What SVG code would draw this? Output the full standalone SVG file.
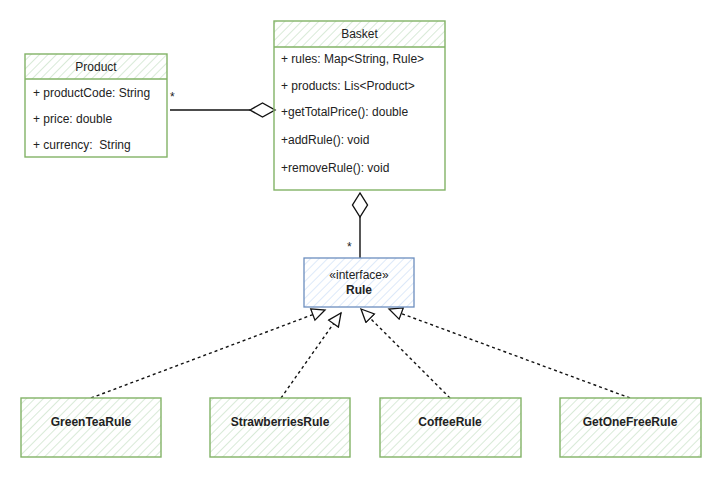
<svg xmlns="http://www.w3.org/2000/svg" width="721" height="478" viewBox="0 0 721 478">
<style>
.t{font-family:"Liberation Sans",Arial,sans-serif;font-size:12px;fill:#222;white-space:pre}
.c{text-anchor:middle}
.b{font-family:"Liberation Sans",Arial,sans-serif;font-size:12px;font-weight:bold;fill:#222;text-anchor:middle}
.g{stroke:#82b366;stroke-width:1.4}
.bl{stroke:#6c8ebf;stroke-width:1.3}
.dash{fill:none;stroke:#111;stroke-width:1.4;stroke-dasharray:3 3}
.ln{fill:none;stroke:#111;stroke-width:1.4}
</style>
<defs>
<pattern id="hg" patternUnits="userSpaceOnUse" width="6" height="6" patternTransform="rotate(45)">
<rect width="6" height="6" fill="#fff"/>
<line x1="0" y1="0" x2="0" y2="6" stroke="#d0e5cf" stroke-width="1.6"/>
</pattern>
<pattern id="hb" patternUnits="userSpaceOnUse" width="6" height="6" patternTransform="rotate(45)">
<rect width="6" height="6" fill="#fff"/>
<line x1="0" y1="0" x2="0" y2="6" stroke="#d5e4f8" stroke-width="1.6"/>
</pattern>
<marker id="tri" markerUnits="userSpaceOnUse" markerWidth="16" markerHeight="16" refX="14" refY="7" orient="auto">
<path d="M1,1 L14,7 L1,13 Z" fill="#fff" stroke="#111" stroke-width="1.3"/>
</marker>
</defs>
<rect width="721" height="478" fill="#fff"/>

<g id="connectors">
<line class="ln" x1="170" y1="110" x2="250" y2="110"/>
<polygon class="ln" fill="#fff" points="250,110 262.5,103 275,110 262.5,117"/>
<text class="t" x="170" y="101">*</text>
<line class="ln" x1="360" y1="217" x2="360" y2="258"/>
<polygon class="ln" fill="#fff" points="360,193 352.5,205 360,217 367.5,205"/>
<text class="t" x="347" y="251">*</text>
<line class="dash" x1="91" y1="398" x2="325" y2="310" marker-end="url(#tri)"/>
<line class="dash" x1="281" y1="398" x2="341" y2="313" marker-end="url(#tri)"/>
<line class="dash" x1="450" y1="398" x2="361" y2="309" marker-end="url(#tri)"/>
<line class="dash" x1="630" y1="398" x2="389" y2="309" marker-end="url(#tri)"/>
</g>

<g id="product">
<rect x="25" y="54" width="142" height="25" fill="url(#hg)"/>
<rect x="25" y="54" width="142" height="103" fill="none" class="g"/>
<line x1="25" y1="79" x2="167" y2="79" class="g"/>
<text class="t c" x="96" y="71">Product</text>
<text class="t" x="33" y="97">+ productCode: String</text>
<text class="t" x="33" y="123">+ price: double</text>
<text class="t" x="33" y="149" xml:space="preserve">+ currency:  String</text>
</g>

<g id="basket">
<rect x="274" y="21" width="171" height="26" fill="url(#hg)"/>
<rect x="274" y="21" width="171" height="169" fill="none" class="g"/>
<line x1="274" y1="47" x2="445" y2="47" class="g"/>
<text class="t c" x="359.5" y="38">Basket</text>
<text class="t" x="281" y="63">+ rules: Map&lt;String, Rule&gt;</text>
<text class="t" x="281" y="90">+ products: Lis&lt;Product&gt;</text>
<text class="t" x="281" y="116">+getTotalPrice(): double</text>
<text class="t" x="281" y="144">+addRule(): void</text>
<text class="t" x="281" y="172">+removeRule(): void</text>
</g>

<g id="rule">
<rect x="304" y="258" width="110" height="49" fill="url(#hb)" class="bl"/>
<text class="t c" x="359" y="279">«interface»</text>
<text class="b" x="359" y="294">Rule</text>
</g>

<g id="greentea">
<rect x="21" y="398" width="140" height="59" fill="url(#hg)" class="g"/>
<text class="b" x="91" y="426">GreenTeaRule</text>
</g>
<g id="strawberries">
<rect x="210" y="398" width="140" height="59" fill="url(#hg)" class="g"/>
<text class="b" x="280" y="426">StrawberriesRule</text>
</g>
<g id="coffee">
<rect x="380" y="398" width="141" height="59" fill="url(#hg)" class="g"/>
<text class="b" x="450" y="426">CoffeeRule</text>
</g>
<g id="getonefree">
<rect x="560" y="398" width="141" height="59" fill="url(#hg)" class="g"/>
<text class="b" x="630" y="426">GetOneFreeRule</text>
</g>
</svg>
